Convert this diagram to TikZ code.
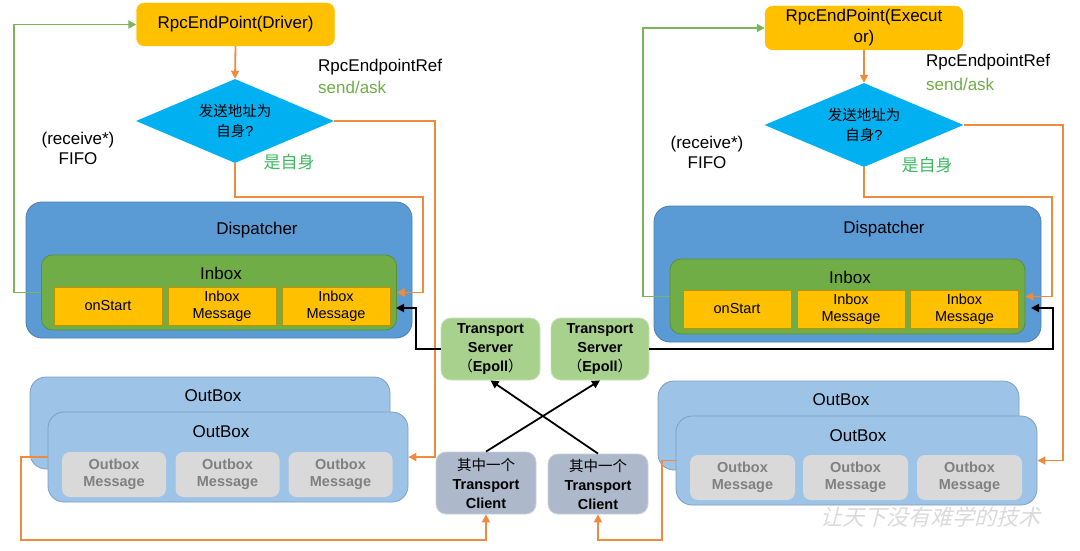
\documentclass[tikz,border=0pt]{standalone}
\usepackage{fontspec}
\setmainfont{Liberation Sans}
\newfontfamily\cjk{Noto Sans CJK SC}
\newfontfamily\wmfont[FakeSlant=0.25]{Noto Sans CJK SC}
\usetikzlibrary{shapes.geometric,arrows.meta}
\definecolor{gold}{HTML}{FFC000}
\definecolor{goldb}{HTML}{BF9000}
\definecolor{cyanD}{HTML}{00B0F0}
\definecolor{dispf}{HTML}{5B9BD5}
\definecolor{dispb}{HTML}{4A7EB0}
\definecolor{inboxf}{HTML}{70AD47}
\definecolor{inboxb}{HTML}{5A8F38}
\definecolor{outf}{HTML}{9DC3E6}
\definecolor{outb}{HTML}{7E9EC4}
\definecolor{msgf}{HTML}{D9D9D9}
\definecolor{msgt}{HTML}{808080}
\definecolor{tsf}{HTML}{A9D18E}
\definecolor{tsb}{HTML}{C5E0B4}
\definecolor{tcf}{HTML}{ADB9CA}
\definecolor{tcb}{HTML}{C9D1DD}
\definecolor{orangeL}{HTML}{F08A3C}
\definecolor{greenL}{HTML}{7AB55C}
\definecolor{yesG}{HTML}{3CB95F}
\definecolor{sendG}{HTML}{70AD47}
\definecolor{wmgray}{HTML}{DADADA}
\tikzset{
  base/.style={rectangle, inner sep=0pt, align=center, font=\fontsize{14.5}{17}\selectfont},
  endpt/.style={base, fill=gold, draw=gold, rounded corners=8pt, minimum width=198pt, font=\fontsize{17}{21}\selectfont},
  decide/.style={diamond, shape aspect=2.36, inner sep=0pt, fill=cyanD, minimum width=198pt, minimum height=84pt, align=center, font=\fontsize{14.5}{20}\selectfont},
  disp/.style={base, fill=dispf, draw=dispb, line width=0.8pt, rounded corners=16pt, minimum width=386pt, minimum height=136pt},
  inbox/.style={base, fill=inboxf, draw=inboxb, line width=0.8pt, rounded corners=11pt, minimum width=355pt, minimum height=75pt},
  slot/.style={base, fill=gold, draw=goldb, line width=0.8pt, minimum width=108pt, minimum height=38pt},
  outbox/.style={base, fill=outf, draw=outb, line width=0.8pt, rounded corners=16pt, minimum width=360pt, minimum height=90pt},
  omsg/.style={base, fill=msgf, rounded corners=8pt, minimum width=104pt, minimum height=45pt, text=msgt, font=\bfseries\fontsize{14.5}{17.5}\selectfont},
  tserver/.style={base, fill=tsf, draw=tsb, line width=0.8pt, rounded corners=10pt, minimum width=99pt, minimum height=62pt, font=\bfseries\fontsize{14.5}{19}\selectfont},
  tclient/.style={base, fill=tcf, draw=tcb, line width=0.8pt, rounded corners=10pt, minimum width=100pt, minimum height=61pt, font=\bfseries\fontsize{14.5}{19}\selectfont},
  title/.style={inner sep=0pt, font=\fontsize{17}{20}\selectfont},
  lbl/.style={inner sep=0pt, align=center, font=\fontsize{17}{20}\selectfont},
  tip/.style={-{Triangle[length=8pt,width=8pt]}},
  oline/.style={draw=orangeL, line width=1.8pt, tip},
  gline/.style={draw=greenL, line width=1.8pt, tip},
  bline/.style={draw=black, line width=1.8pt, tip}
}
\begin{document}
\begin{tikzpicture}[x=1pt,y=-1pt]
\useasboundingbox (0,0) rectangle (1080,551);

% ---------------- LEFT ----------------
\node[endpt, minimum height=43pt] (epL) at (235.5,24.5) {RpcEndPoint(Driver)};
\node[decide] (diaL) at (235,121) {{\cjk 发送地址为}\\{\cjk 自身}?};
\node[disp] (dispL) at (219,270) {};
\node[title] (dispLt) at (257,230) {Dispatcher};
\node[inbox] (inboxL) at (219,292.5) {};
\node[title] (inboxLt) at (221,273) {Inbox};
\node[slot] (onL) at (108,306) {onStart};
\node[slot] (imAL) at (222,306) {Inbox\\Message};
\node[slot] (imBL) at (336,306) {Inbox\\Message};
\node[outbox, minimum height=92pt] (obkL) at (210,423) {};
\node[title] (obkLt) at (213,396) {OutBox};
\node[outbox] (ofrL) at (228,457) {};
\node[title] (ofrLt) at (221,432) {OutBox};
\node[omsg] (omAL) at (114,474.5) {Outbox\\Message};
\node[omsg] (omBL) at (227.5,474.5) {Outbox\\Message};
\node[omsg] (omCL) at (340.5,474.5) {Outbox\\Message};

\node[lbl, anchor=west] (refL) at (318,67) {RpcEndpointRef};
\node[lbl, anchor=west, text=sendG] (sendL) at (318,87) {send/ask};
\node[lbl] (fifoL) at (78,148) {(receive*)\\FIFO};
\node[lbl, text=yesG] (yesL) at (289,162) {\cjk 是自身};

% ---------------- RIGHT ----------------
\node[endpt, minimum height=44pt] (epR) at (864,28) {RpcEndPoint(Execut\\or)};
\node[decide, minimum width=199pt] (diaR) at (864,125) {{\cjk 发送地址为}\\{\cjk 自身}?};
\node[disp, minimum width=387pt] (dispR) at (847.5,274) {};
\node[title] (dispRt) at (884,229) {Dispatcher};
\node[inbox] (inboxR) at (847.5,296.5) {};
\node[title] (inboxRt) at (850,277) {Inbox};
\node[slot] (onR) at (737,309) {onStart};
\node[slot] (imAR) at (851,309) {Inbox\\Message};
\node[slot] (imBR) at (964.5,309) {Inbox\\Message};
\node[outbox, minimum width=361pt, minimum height=89pt] (obkR) at (838.5,425.5) {};
\node[title] (obkRt) at (841,400) {OutBox};
\node[outbox, minimum width=361pt, minimum height=89pt] (ofrR) at (856.5,460.5) {};
\node[title] (ofrRt) at (858,436) {OutBox};
\node[omsg, minimum width=105pt] (omAR) at (742.5,477.5) {Outbox\\Message};
\node[omsg, minimum width=105pt] (omBR) at (855.5,477.5) {Outbox\\Message};
\node[omsg, minimum width=105pt] (omCR) at (969.5,477.5) {Outbox\\Message};

\node[lbl, anchor=west] (refR) at (926,62) {RpcEndpointRef};
\node[lbl, anchor=west, text=sendG] (sendR) at (926,84) {send/ask};
\node[lbl] (fifoR) at (707,152) {(receive*)\\FIFO};
\node[lbl, text=yesG] (yesR) at (927,165) {\cjk 是自身};

% ---------------- TRANSPORT ----------------
\node[tserver] (tsA) at (490.5,349) {Transport\\Server\\{\cjk\mdseries （}Epoll{\cjk\mdseries ）}};
\node[tserver, minimum width=98pt] (tsB) at (600,349) {Transport\\Server\\{\cjk\mdseries （}Epoll{\cjk\mdseries ）}};
\node[tclient, minimum height=62pt] (tcA) at (486,483) {{\cjk\mdseries 其中一个}\\Transport\\Client};
\node[tclient, minimum height=60pt] (tcB) at (598,484) {{\cjk\mdseries 其中一个}\\Transport\\Client};

% ---------------- COORDINATES ----------------
\coordinate (gL) at (14,24.5);
\coordinate (oL1) at (423,197);
\coordinate (oL2) at (435,457);
\coordinate (oL3) at (21,540);
\coordinate (bL1) at (416,308);
\coordinate (bLend) at (396,308);
\coordinate (gR) at (643,28);
\coordinate (oR1) at (1052,197);
\coordinate (oR2) at (1063,460.5);
\coordinate (oR3) at (662,540);
\coordinate (bR1) at (1053,308);
\coordinate (bRend) at (1031,308);

% ---------------- CONNECTORS ----------------
\draw[gline] (inboxL.west) -| (gL) -- (epL.west);
\draw[oline] (epL.south) -- (diaL.north);
\draw[oline] (diaL.south) |- (oL1) |- (inboxL.east);
\draw[oline] (diaL.east) -| (oL2) -- (ofrL.east);
\draw[oline] (ofrL.west) -| (oL3) -| (tcA.south);
\draw[bline] (tsA.west) -| (bL1) -- (bLend);

\draw[gline] (inboxR.west) -| (gR) -- (epR.west);
\draw[oline] (epR.south) -- (diaR.north);
\draw[oline] (diaR.south) |- (oR1) |- (inboxR.east);
\draw[oline] (diaR.east) -| (oR2) -- (ofrR.east);
\draw[oline] (ofrR.west) -| (oR3) -| (tcB.south);
\draw[bline] (tsB.east) -| (bR1) -- (bRend);

\draw[bline] (tcA.north) -- (tsB.south);
\draw[bline] (tcB.north) -- (tsA.south);

% watermark
\node[inner sep=0pt, text=wmgray, font=\wmfont\fontsize{22}{22}\selectfont] (wm) at (930,517) {让天下没有难学的技术};
\end{tikzpicture}
\end{document}
